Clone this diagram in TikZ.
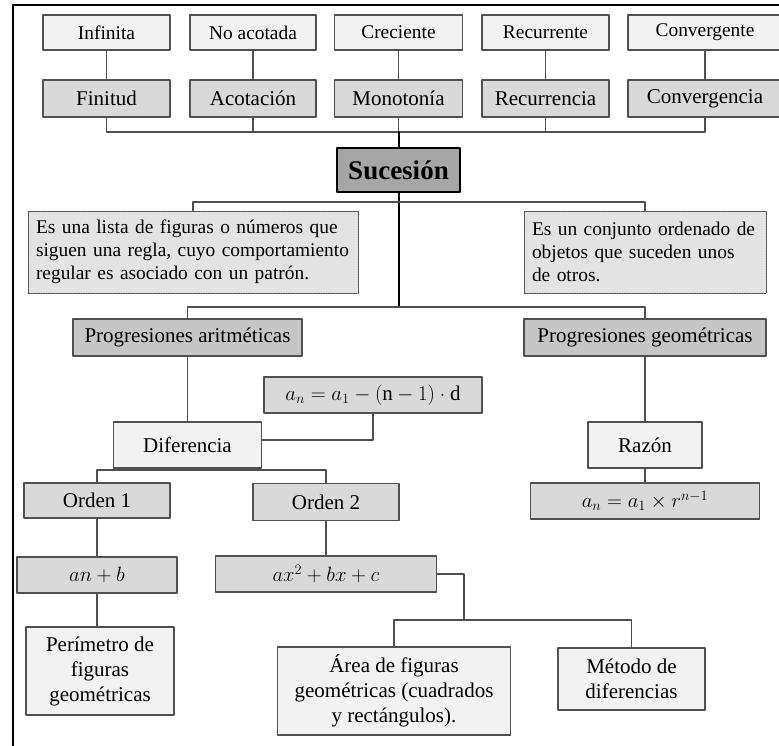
\documentclass[tikz,border=0pt]{standalone}
\usepackage{fontspec}
\setmainfont{Liberation Serif}

\definecolor{claro}{HTML}{F2F2F2}
\definecolor{medio}{HTML}{D9D9D9}
\definecolor{oscuro}{HTML}{C6C6C6}
\definecolor{fuerte}{HTML}{A6A6A6}
\definecolor{nota}{HTML}{E3E3E3}
\definecolor{borde}{HTML}{505050}
\newcommand{\tam}[2]{\fontsize{#1}{#2}\selectfont}

\begin{document}
\begin{tikzpicture}[x=1pt, y=-1pt, line join=round, line cap=round,
    caja/.style={draw=borde, line width=1.3pt, inner sep=0pt, align=center, font=\tam{21}{25}},
    arriba/.style={caja, fill=claro, minimum height=35pt, font=\tam{19.4}{23}},
    segunda/.style={caja, fill=medio, minimum height=37pt},
    suave/.style={caja, fill=claro, minimum height=46pt},
    gris/.style={caja, fill=medio, minimum height=36pt},
    rama/.style={caja, fill=oscuro, minimum height=37pt},
    nota/.style={draw=borde, line width=0.9pt, dash pattern=on 1.6pt off 0.9pt, fill=nota,
        inner xsep=8pt, inner ysep=0pt, minimum height=82pt, align=left, font=\tam{19.4}{23}},
    enlace/.style={draw=borde, line width=1.3pt},
    tronco/.style={draw=black, line width=2pt}]
    \useasboundingbox (0,0) rectangle (779,746);
    \draw[line width=2.2pt] (13,746) -- (13,5) -- (782,5);

    \node[arriba, minimum width=127pt] (inf) at (106.5,32.5) {Infinita};
    \node[arriba, minimum width=126pt] (noac) at (253,32.5) {No acotada};
    \node[arriba, minimum width=128pt] (crec) at (398.5,32.5) {Creciente};
    \node[arriba, minimum width=127pt] (recu) at (545.5,32.5) {Recurrente};
    \node[arriba, minimum width=154pt] (conv) at (705,32.5) {Convergente};

    \node[segunda, minimum width=127pt] (fini) at (106.5,98.5) {Finitud};
    \node[segunda, minimum width=126pt] (acot) at (253,98.5) {Acotación};
    \node[segunda, minimum width=128pt] (mono) at (398.5,98.5) {Monotonía};
    \node[segunda, minimum width=127pt] (recr) at (545.5,98.5) {Recurrencia};
    \node[segunda, minimum width=154pt] (conc) at (705,98.5) {Convergencia};

    \node[caja, draw=black, fill=fuerte, minimum width=123pt, minimum height=44pt,
        font=\tam{27}{30}\bfseries] (suc) at (398.5,170) {Sucesión};

    \node[nota, text width=314pt] (def1) at (193,252) {Es una lista de figuras o números que\\siguen una regla, cuyo comportamiento\\regular es asociado con un patrón.};
    \node[nota, text width=226pt] (def2) at (645,252) {Es un conjunto ordenado de\\objetos que suceden unos\\de otros.};

    \node[rama, minimum width=229pt] (arit) at (187.5,337.5) {Progresiones aritméticas};
    \node[rama, minimum width=242pt] (geom) at (645,337.5) {Progresiones geométricas};

    \node[gris, minimum width=218pt] (fa) at (373,395) {$a_n = a_1 - (\mathrm{n}-1)\cdot\mathrm{d}$};
    \node[suave, minimum width=148pt] (dif) at (187.5,445) {Diferencia};
    \node[suave, minimum width=114pt] (raz) at (645,445) {Razón};
    \node[gris, minimum width=229pt] (fg) at (645,501) {$a_n = a_1 \times r^{n-1}$};

    \node[segunda, minimum width=146pt, minimum height=35pt] (ord1) at (97,500.5) {Orden 1};
    \node[segunda, minimum width=146pt] (ord2) at (326,502) {Orden 2};
    \node[gris, minimum width=160pt] (anb) at (97,575) {$an+b$};
    \node[gris, minimum width=221pt] (ax2) at (326,574) {$ax^2+bx+c$};

    \node[suave, minimum width=148pt, minimum height=88pt] (perim) at (100,671) {Perímetro de\\figuras\\geométricas};
    \node[suave, minimum width=233pt, minimum height=88pt] (area) at (394,691) {Área de figuras\\geométricas (cuadrados\\y rectángulos).};
    \node[suave, minimum width=147pt, minimum height=62pt] (met) at (631.5,679) {Método de\\diferencias};

    \coordinate (busA) at (398.5,132);
    \coordinate (busB) at (398.5,202);
    \coordinate (busC) at (398.5,307);
    \coordinate (busD) at (187.5,470);
    \coordinate (busE) at (464,620);

    \draw[enlace] (inf) -- (fini);
    \draw[enlace] (noac) -- (acot);
    \draw[enlace] (crec) -- (mono);
    \draw[enlace] (recu) -- (recr);
    \draw[enlace] (conv) -- (conc);
    \draw[enlace] (fini.south) |- (busA) -| (conc.south);
    \draw[enlace] (acot.south) -- (acot.south |- busA);
    \draw[enlace] (recr.south) -- (recr.south |- busA);
    \draw[enlace] (mono.south) -- (busA);
    \draw[tronco] (busA) -- (suc.north);
    \draw[tronco] (suc.south) -- (busC);
    \draw[enlace] (def1.north) |- (busB) -| (def2.north);
    \draw[enlace] (arit.north) |- (busC) -| (geom.north);
    \draw[enlace] (arit) -- (dif);
    \draw[enlace] (fa.south) |- ([yshift=5pt]dif.east);
    \draw[enlace] (geom) -- (raz);
    \draw[enlace] (raz) -- (fg);
    \draw[enlace] (dif) -- (busD);
    \draw[enlace] (ord1.north) |- (busD) -| (ord2.north);
    \draw[enlace] (ord1) -- (anb);
    \draw[enlace] (ord2) -- (ax2);
    \draw[enlace] (anb.south) -- (anb.south |- perim.north);
    \draw[enlace] (ax2.east) -| (busE);
    \draw[enlace] (area.north) |- (busE) -| (met.north);
\end{tikzpicture}
\end{document}
